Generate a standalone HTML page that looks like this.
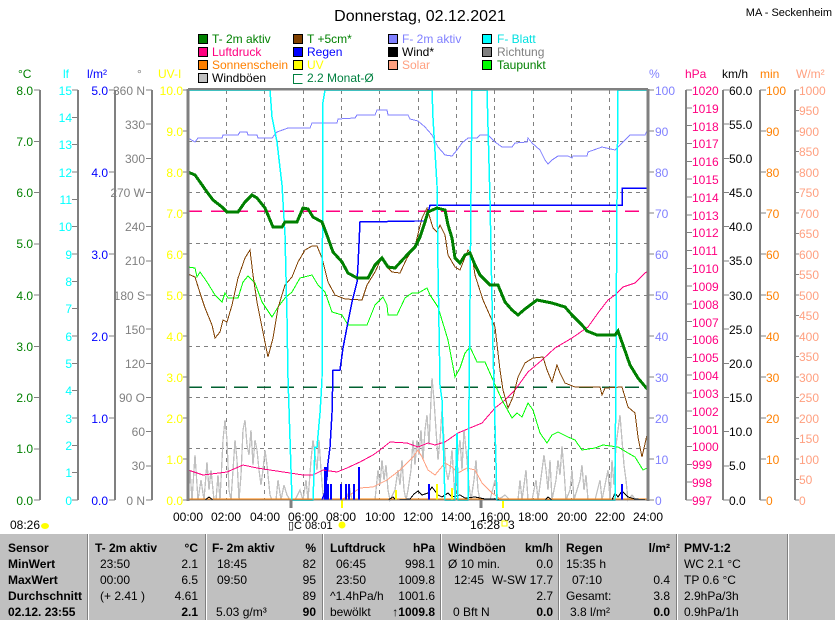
<!DOCTYPE html>
<html><head><meta charset="utf-8"><style>
body{margin:0;background:#fff;width:835px;height:620px;overflow:hidden}
svg{display:block;font-family:"Liberation Sans",sans-serif;font-size:12px}
.tb{font-weight:bold}
polyline,line,path,rect{shape-rendering:crispEdges}
</style></head><body>
<svg width="835" height="620" viewBox="0 0 835 620" xmlns="http://www.w3.org/2000/svg">
<text x="420" y="21" text-anchor="middle" font-size="16">Donnerstag, 02.12.2021</text>
<text x="832" y="16" font-size="11" text-anchor="end">MA - Seckenheim</text>
<!-- legend -->
<g font-size="12">
<rect x="198.5" y="34.5" width="9" height="9" fill="#008000" stroke="#000"/><text x="212" y="43" fill="#008000">T- 2m aktiv</text>
<rect x="293.5" y="34.5" width="9" height="9" fill="#804000" stroke="#000"/><text x="307" y="43" fill="#008000">T +5cm*</text>
<rect x="388.5" y="34.5" width="9" height="9" fill="#8080ff" stroke="#000"/><text x="402" y="43" fill="#8080ff">F- 2m aktiv</text>
<rect x="482.5" y="34.5" width="9" height="9" fill="#00ffff" stroke="#000"/><text x="497" y="43" fill="#00e0e0">F- Blatt</text>
<rect x="198.5" y="47.5" width="9" height="9" fill="#ff0080" stroke="#000"/><text x="212" y="56" fill="#ff0080">Luftdruck</text>
<rect x="293.5" y="47.5" width="9" height="9" fill="#0000ff" stroke="#000"/><text x="307" y="56" fill="#0000ff">Regen</text>
<rect x="388.5" y="47.5" width="9" height="9" fill="#000" stroke="#000"/><text x="402" y="56">Wind*</text>
<rect x="482.5" y="47.5" width="9" height="9" fill="#808080" stroke="#000"/><text x="497" y="56" fill="#808080">Richtung</text>
<rect x="198.5" y="60.5" width="9" height="9" fill="#ff8000" stroke="#000"/><text x="212" y="69" fill="#ff8000">Sonnenschein</text>
<rect x="293.5" y="60.5" width="9" height="9" fill="#ffff00" stroke="#000"/><text x="307" y="69" fill="#ffff00">UV</text>
<rect x="388.5" y="60.5" width="9" height="9" fill="#ffa080" stroke="#000"/><text x="402" y="69" fill="#ffa080">Solar</text>
<rect x="482.5" y="60.5" width="9" height="9" fill="#00ff00" stroke="#000"/><text x="497" y="69" fill="#008000">Taupunkt</text>
<rect x="198.5" y="73.5" width="9" height="9" fill="#c0c0c0" stroke="#000"/><text x="212" y="82">Windböen</text>
<path d="M302.5 74.5H293.5V83.5H302.5" fill="none" stroke="#008040"/><text x="307" y="82" fill="#008040">2.2 Monat-Ø</text>
</g>
<!-- unit labels -->
<text x="18" y="78" fill="#008000">°C</text>
<text x="63" y="78" fill="#00ffff">lf</text>
<text x="87" y="78" fill="#0000ff">l/m²</text>
<text x="137" y="78" fill="#808080">°</text>
<text x="158" y="78" fill="#ffff00">UV-I</text>
<text x="649" y="78" fill="#8080ff">%</text>
<text x="685" y="78" fill="#ff0080">hPa</text>
<text x="722" y="78">km/h</text>
<text x="760" y="78" fill="#ff8000">min</text>
<text x="796" y="78" fill="#ffa080">W/m²</text>
<!-- axis lines -->
<g stroke="#808080" stroke-width="2">
<line x1="40" y1="90" x2="40" y2="500"/><line x1="78" y1="90" x2="78" y2="500"/>
<line x1="115" y1="90" x2="115" y2="500"/><line x1="152" y1="90" x2="152" y2="500"/>
<line x1="686" y1="90" x2="686" y2="500"/><line x1="723" y1="90" x2="723" y2="500"/>
<line x1="760" y1="90" x2="760" y2="500"/><line x1="795" y1="90" x2="795" y2="500"/>
</g>
<!-- left ticks & labels -->
<g stroke="#808080" stroke-width="1">
<path d="M34 90H40M34 141.25H40M34 192.5H40M34 243.75H40M34 295H40M34 346.25H40M34 397.5H40M34 448.75H40M34 500H40"/>
<path d="M72 90H78M72 117.3H78M72 144.7H78M72 172H78M72 199.3H78M72 226.7H78M72 254H78M72 281.3H78M72 308.7H78M72 336H78M72 363.3H78M72 390.7H78M72 418H78M72 445.3H78M72 472.7H78M72 500H78"/>
<path d="M109 90H115M109 172H115M109 254H115M109 336H115M109 418H115M109 500H115"/>
<path d="M146 90H152M146 124.2H152M146 158.3H152M146 192.5H152M146 226.7H152M146 260.8H152M146 295H152M146 329.2H152M146 363.3H152M146 397.5H152M146 431.7H152M146 465.8H152M146 500H152"/>
<path d="M183 90H188M183 131H188M183 172H188M183 213H188M183 254H188M183 295H188M183 336H188M183 377H188M183 418H188M183 459H188M183 500H188"/>
<path d="M648 90H654M648 131H654M648 172H654M648 213H654M648 254H654M648 295H654M648 336H654M648 377H654M648 418H654M648 459H654M648 500H654"/>
<path d="M686 90H692M686 107.8H692M686 125.7H692M686 143.5H692M686 161.3H692M686 179.1H692M686 197H692M686 214.8H692M686 232.6H692M686 250.4H692M686 268.3H692M686 286.1H692M686 303.9H692M686 321.7H692M686 339.6H692M686 357.4H692M686 375.2H692M686 393H692M686 410.9H692M686 428.7H692M686 446.5H692M686 464.3H692M686 482.2H692M686 500H692"/>
<path d="M723 90H729M723 124.2H729M723 158.3H729M723 192.5H729M723 226.7H729M723 260.8H729M723 295H729M723 329.2H729M723 363.3H729M723 397.5H729M723 431.7H729M723 465.8H729M723 500H729"/>
<path d="M760 90H766M760 131H766M760 172H766M760 213H766M760 254H766M760 295H766M760 336H766M760 377H766M760 418H766M760 459H766M760 500H766"/>
<path d="M795 90H799M795 110.5H799M795 131H799M795 151.5H799M795 172H799M795 192.5H799M795 213H799M795 233.5H799M795 254H799M795 274.5H799M795 295H799M795 315.5H799M795 336H799M795 356.5H799M795 377H799M795 397.5H799M795 418H799M795 438.5H799M795 459H799M795 479.5H799M795 500H799"/>
</g>
<g fill="#008000" text-anchor="end">
<text x="33" y="95">8.0</text><text x="33" y="146">7.0</text><text x="33" y="197">6.0</text><text x="33" y="248">5.0</text><text x="33" y="300">4.0</text><text x="33" y="351">3.0</text><text x="33" y="402">2.0</text><text x="33" y="453">1.0</text><text x="33" y="505">0.0</text>
</g>
<g fill="#00ffff" text-anchor="end">
<text x="72" y="95">15</text><text x="72" y="122">14</text><text x="72" y="149">13</text><text x="72" y="177">12</text><text x="72" y="204">11</text><text x="72" y="231">10</text><text x="72" y="259">9</text><text x="72" y="286">8</text><text x="72" y="313">7</text><text x="72" y="341">6</text><text x="72" y="368">5</text><text x="72" y="395">4</text><text x="72" y="423">3</text><text x="72" y="450">2</text><text x="72" y="477">1</text><text x="72" y="505">0</text>
</g>
<g fill="#0000ff" text-anchor="end">
<text x="108" y="95">5.0</text><text x="108" y="177">4.0</text><text x="108" y="259">3.0</text><text x="108" y="341">2.0</text><text x="108" y="423">1.0</text><text x="108" y="505">0.0</text>
</g>
<g fill="#808080" text-anchor="end">
<text x="145" y="95">360 N</text><text x="145" y="129">330</text><text x="145" y="163">300</text><text x="145" y="197">270 W</text><text x="145" y="231">240</text><text x="145" y="265">210</text><text x="145" y="300">180 S</text><text x="145" y="334">150</text><text x="145" y="368">120</text><text x="145" y="402">90 O</text><text x="145" y="436">60</text><text x="145" y="470">30</text><text x="145" y="505">0 N</text>
</g>
<g fill="#ffff00" text-anchor="end">
<text x="183" y="95">10.0</text><text x="183" y="136">9.0</text><text x="183" y="177">8.0</text><text x="183" y="218">7.0</text><text x="183" y="259">6.0</text><text x="183" y="300">5.0</text><text x="183" y="341">4.0</text><text x="183" y="382">3.0</text><text x="183" y="423">2.0</text><text x="183" y="464">1.0</text><text x="183" y="505">0.0</text>
</g>
<g fill="#8080ff">
<text x="655" y="95">100</text><text x="655" y="136">90</text><text x="655" y="177">80</text><text x="655" y="218">70</text><text x="655" y="259">60</text><text x="655" y="300">50</text><text x="655" y="341">40</text><text x="655" y="382">30</text><text x="655" y="423">20</text><text x="655" y="464">10</text><text x="655" y="505">0</text>
</g>
<g fill="#ff0080">
<text x="692" y="95">1020</text><text x="692" y="113">1019</text><text x="692" y="131">1018</text><text x="692" y="148">1017</text><text x="692" y="166">1016</text><text x="692" y="184">1015</text><text x="692" y="202">1014</text><text x="692" y="220">1013</text><text x="692" y="237">1012</text><text x="692" y="255">1011</text><text x="692" y="273">1010</text><text x="692" y="291">1009</text><text x="692" y="309">1008</text><text x="692" y="327">1007</text><text x="692" y="344">1006</text><text x="692" y="362">1005</text><text x="692" y="380">1004</text><text x="692" y="398">1003</text><text x="692" y="416">1002</text><text x="692" y="434">1001</text><text x="692" y="451">1000</text><text x="692" y="469">999</text><text x="692" y="487">998</text><text x="692" y="505">997</text>
</g>
<g fill="#000">
<text x="729" y="95">60.0</text><text x="729" y="129">55.0</text><text x="729" y="163">50.0</text><text x="729" y="197">45.0</text><text x="729" y="231">40.0</text><text x="729" y="265">35.0</text><text x="729" y="300">30.0</text><text x="729" y="334">25.0</text><text x="729" y="368">20.0</text><text x="729" y="402">15.0</text><text x="729" y="436">10.0</text><text x="729" y="470">5.0</text><text x="729" y="505">0.0</text>
</g>
<g fill="#ff8000">
<text x="766" y="95">100</text><text x="766" y="136">90</text><text x="766" y="177">80</text><text x="766" y="218">70</text><text x="766" y="259">60</text><text x="766" y="300">50</text><text x="766" y="341">40</text><text x="766" y="382">30</text><text x="766" y="423">20</text><text x="766" y="464">10</text><text x="766" y="505">0</text>
</g>
<g fill="#ffa080">
<text x="799" y="95">1000</text><text x="799" y="115">950</text><text x="799" y="136">900</text><text x="799" y="156">850</text><text x="799" y="177">800</text><text x="799" y="197">750</text><text x="799" y="218">700</text><text x="799" y="238">650</text><text x="799" y="259">600</text><text x="799" y="279">550</text><text x="799" y="300">500</text><text x="799" y="320">450</text><text x="799" y="341">400</text><text x="799" y="361">350</text><text x="799" y="382">300</text><text x="799" y="402">250</text><text x="799" y="423">200</text><text x="799" y="443">150</text><text x="799" y="464">100</text><text x="799" y="484">50</text><text x="799" y="505">0</text>
</g>
<!-- grid -->
<g stroke="#808080" stroke-dasharray="4,4" stroke-width="1">
<path d="M188 141.5H648M188 192.5H648M188 243.5H648M188 295.5H648M188 346.5H648M188 397.5H648M188 448.5H648"/>
<path d="M226.5 90V500M264.5 90V500M303.5 90V500M341.5 90V500M379.5 90V500M418.5 90V500M456.5 90V500M494.5 90V500M533.5 90V500M571.5 90V500M609.5 90V500"/>
</g>
<!-- dashed monthly lines -->
<line x1="188" y1="211" x2="648" y2="211" stroke="#ff0080" stroke-width="1.5" stroke-dasharray="14,9"/>
<line x1="188" y1="387" x2="648" y2="387" stroke="#006030" stroke-width="1.5" stroke-dasharray="14,9"/>
<!-- Windböen -->
<polyline fill="none" stroke="#c0c0c0" stroke-width="1.3" points="188,500 190,470 192,500 195,455 198,500 201,480 204,500 207,462 209,490 211,470 214,500 216,500 218,475 220,500 223,440 225,420 227,440 229,490 231,500 233,470 235,440 237,460 239,500 241,475 243,430 245,420 247,445 249,455 251,430 253,465 255,440 257,450 259,470 261,485 263,470 265,450 267,465 270,495 272,500 276,500 278,480 281,500 284,485 287,495 290,500 295,500 300,490 303,500 306,480 308,500 311,460 313,440 315,455 317,470 319,440 321,470 323,495 326,500 335,500 340,500 345,500 350,490 352,500 365,500 370,500 375,500 378,470 380,485 382,460 384,480 386,465 388,490 390,500 395,490 398,470 400,485 402,460 404,490 406,500 408,490 411,470 413,440 415,465 417,440 419,455 421,430 423,460 425,430 427,415 429,445 431,400 432,378 434,400 436,430 438,460 440,440 442,410 444,440 446,470 448,480 450,470 452,450 455,500 458,455 460,440 462,470 464,430 467,460 469,485 471,500 474,480 476,460 478,490 480,500 490,500 495,480 498,500 505,495 510,500 518,500 520,480 522,500 526,470 528,500 532,500 536,480 538,500 542,470 544,455 546,470 548,490 550,460 552,500 556,480 558,460 560,475 562,446 564,470 566,500 570,490 572,470 574,500 580,480 582,465 584,490 586,475 588,500 595,500 600,480 602,500 608,470 610,500 612,460 614,485 616,445 618,430 620,415 622,440 624,465 626,480 628,500 632,495 636,500 648,500"/>
<!-- Solar -->
<polyline fill="none" stroke="#ffa080" stroke-width="1" points="340,500 347,497 360,488 373,487 387,480 400,470 413,457 418,450 422,457 428,470 435,475 445,463 452,467 458,473 467,468 475,470 482,483 492,493 502,500"/>
<!-- Sunshine -->
<line x1="188" y1="499" x2="648" y2="499" stroke="#ff8000" stroke-width="1.5"/>
<!-- Wind black -->
<polyline fill="none" stroke="#000" stroke-width="1" points="188,500 205,500 209,497 213,500 388,500 393,497 396,500 410,499 414,494 418,491 422,495 428,493 432,487 435,491 438,495 442,497 448,493 452,497 460,495 465,498 475,497 485,499 495,499 500,500 545,500 548,497 552,500 612,500 615,493 618,497 622,491 628,497 635,499 648,500"/>
<!-- UV -->
<g stroke="#ffff00" stroke-width="2"><line x1="342" y1="500" x2="342" y2="508"/><line x1="396" y1="500" x2="396" y2="490"/><line x1="437" y1="484" x2="437" y2="500"/><line x1="452" y1="488" x2="452" y2="500"/><line x1="503" y1="500" x2="503" y2="508"/></g>
<!-- Rain bars -->
<g fill="#0000ff">
<rect x="324" y="467" width="3" height="33"/><rect x="327" y="484" width="2" height="16"/><rect x="330" y="484" width="2" height="16"/><rect x="340" y="484" width="2" height="16"/><rect x="345" y="484" width="2" height="16"/><rect x="348" y="484" width="2" height="16"/><rect x="353" y="484" width="2" height="16"/><rect x="358" y="467" width="2" height="33"/><rect x="428" y="484" width="2" height="16"/><rect x="621" y="484" width="2" height="16"/>
</g>
<!-- Luftdruck -->
<polyline fill="none" stroke="#ff0080" stroke-width="1" points="188,470 203,475 227,472 243,465 257,468 270,470 290,473 303,475 313,475 323,470 337,472 347,468 360,462 373,455 380,450 390,442 407,443 418,447 428,443 435,445 445,442 458,433 470,428 482,423 495,408 505,400 515,390 528,372 542,360 555,348 572,338 588,327 598,313 608,300 615,295 623,287 635,283 645,273 648,271"/>
<!-- Taupunkt -->
<polyline fill="none" stroke="#00ff00" stroke-width="1" points="188,267 195,268 197,277 200,272 207,282 215,295 222,302 225,293 228,298 238,298 243,282 248,276 255,283 262,302 272,317 278,307 285,298 292,292 300,278 312,275 318,285 325,292 332,312 342,315 348,325 367,325 375,305 383,297 387,305 388,315 397,315 405,298 412,293 418,293 420,292 427,288 430,295 438,307 448,340 455,377 460,368 465,353 470,347 477,362 485,362 493,380 502,400 512,418 517,413 522,417 528,403 533,410 540,433 547,443 552,435 558,432 568,437 575,440 582,450 595,448 603,445 618,447 628,453 635,457 643,470 647,468"/>
<!-- T+5cm -->
<polyline fill="none" stroke="#804000" stroke-width="1" points="188,274 195,277 200,293 205,308 212,325 215,338 220,332 223,320 227,322 232,305 238,278 245,258 250,250 253,275 257,302 263,332 268,357 273,338 278,308 285,285 292,277 298,262 305,250 312,246 317,246 322,258 328,282 335,295 345,299 362,300 367,285 375,272 382,257 387,267 392,272 400,273 407,258 415,246 422,218 427,208 433,228 437,232 440,225 445,235 448,255 455,267 460,270 468,250 472,255 475,275 483,300 495,327 500,370 503,390 508,408 513,397 518,377 525,363 533,358 543,357 547,370 552,382 557,365 560,373 565,383 575,387 600,387 602,395 605,388 622,387 628,407 635,413 638,437 642,457 647,435"/>
<!-- F-2m -->
<polyline fill="none" stroke="#8080ff" stroke-width="1" points="188,138 195,142 198,138 222,138 223,135 238,135 240,132 247,132 248,135 257,135 258,138 272,138 277,132 288,128 310,128 312,123 337,123 338,119 355,118 357,115 375,115 377,110 387,110 388,115 408,115 410,119 418,121 425,127 432,135 438,147 445,155 452,156 457,150 462,143 468,138 477,138 480,135 488,135 495,142 502,147 512,147 515,143 527,142 528,138 532,143 540,150 545,160 548,164 552,160 558,156 568,156 572,158 573,156 587,156 588,152 602,147 615,150 622,143 630,135 645,135 647,131"/>
<!-- Regen cumulative -->
<polyline fill="none" stroke="#0000ff" stroke-width="1.5" points="322,500 325,492 327,477 328,463 330,447 332,413 333,370 340,370 343,348 347,327 352,302 357,282 358,265 360,222 415,221 425,221 427,217 430,205 622,205 622,188 648,188"/>
<!-- F-Blatt -->
<polyline fill="none" stroke="#00ffff" stroke-width="1.5" points="188,90 270,90 272,117 277,142 282,185 285,235 287,318 288,378 292,500 313,500 315,447 317,447 320,413 322,380 323,102 325,90 432,90 433,118 437,185 438,268 440,385 442,400 445,500 455,500 457,433 458,500 468,500 470,300 472,90 487,90 490,200 493,350 497,500 615,500 617,200 618,90 648,90"/>
<!-- T-2m -->
<polyline fill="none" stroke="#008000" stroke-width="3" points="188,172 195,175 200,182 207,192 213,200 222,207 227,212 238,212 245,202 252,195 257,198 265,208 273,227 282,227 285,222 297,222 303,208 308,209 313,217 322,222 328,238 333,252 342,262 348,273 357,278 368,278 375,265 382,258 388,267 395,268 407,255 415,247 420,237 425,222 428,212 437,208 445,210 448,225 452,238 455,258 460,263 465,255 470,253 475,265 480,275 490,285 498,285 505,302 512,310 518,315 525,309 537,300 552,303 565,307 572,315 582,325 587,331 597,335 615,335 618,331 623,345 630,365 638,378 648,390"/>
<!-- frame -->
<rect x="188" y="90" width="460" height="410" fill="none" stroke="#808080" stroke-width="1"/>
<line x1="188" y1="89" x2="648" y2="89" stroke="#808080" stroke-width="2"/>
<line x1="188" y1="89" x2="188" y2="501" stroke="#808080" stroke-width="3"/>
<line x1="648" y1="89" x2="648" y2="501" stroke="#808080" stroke-width="3"/>
<line x1="291" y1="500" x2="291" y2="508" stroke="#808080" stroke-width="3"/>
<line x1="481" y1="500" x2="481" y2="508" stroke="#808080" stroke-width="3"/>
<!-- time labels -->
<g text-anchor="middle">
<text x="188" y="521">00:00</text><text x="226" y="521">02:00</text><text x="265" y="521">04:00</text><text x="303" y="521">06:00</text><text x="341" y="521">08:00</text><text x="380" y="521">10:00</text><text x="418" y="521">12:00</text><text x="456" y="521">14:00</text><text x="495" y="521">16:00</text><text x="533" y="521">18:00</text><text x="572" y="521">20:00</text><text x="610" y="521">22:00</text><text x="648" y="521">24:00</text>
</g>
<text x="10" y="529">08:26</text><ellipse cx="45" cy="526" rx="4" ry="3" fill="#ffff00"/>
<text x="288" y="529" font-size="11">▯C 08:01</text><circle cx="342" cy="525" r="3.5" fill="#ffff00"/>
<text x="470" y="529">16:28</text><rect x="502" y="521" width="5" height="5" fill="none" stroke="#ffff00"/><text x="508" y="529">3</text>
<!-- table -->
<rect x="0" y="533" width="835" height="87" fill="#c0c0c0"/>
<line x1="0" y1="533.5" x2="835" y2="533.5" stroke="#fff"/>
<g stroke="#808080"><path d="M87.5 534V620M205.5 534V620M322.5 534V620M440.5 534V620M558.5 534V620M676.5 534V620M787.5 534V620"/></g>
<g stroke="#fff"><path d="M88.5 534V620M206.5 534V620M323.5 534V620M441.5 534V620M559.5 534V620M677.5 534V620M788.5 534V620"/></g>
<g font-size="12">
<g class="tb"><text x="8" y="552">Sensor</text><text x="8" y="568">MinWert</text><text x="8" y="584">MaxWert</text><text x="8" y="600">Durchschnitt</text><text x="8" y="616">02.12. 23:55</text></g>
<text x="95" y="552" class="tb">T- 2m aktiv</text><text x="198" y="552" class="tb" text-anchor="end">°C</text>
<text x="100" y="568">23:50</text><text x="100" y="584">00:00</text><text x="100" y="600">(+ 2.41 )</text>
<g text-anchor="end"><text x="198" y="568">2.1</text><text x="198" y="584">6.5</text><text x="198" y="600">4.61</text><text x="198" y="616" class="tb">2.1</text></g>
<text x="212" y="552" class="tb">F- 2m aktiv</text><text x="316" y="552" class="tb" text-anchor="end">%</text>
<text x="217" y="568">18:45</text><text x="217" y="584">09:50</text><text x="216" y="616">5.03 g/m³</text>
<g text-anchor="end"><text x="316" y="568">82</text><text x="316" y="584">95</text><text x="316" y="600">89</text><text x="316" y="616" class="tb">90</text></g>
<text x="330" y="552" class="tb">Luftdruck</text><text x="435" y="552" class="tb" text-anchor="end">hPa</text>
<text x="336" y="568">06:45</text><text x="336" y="584">23:50</text><text x="330" y="600">^1.4hPa/h</text><text x="330" y="616">bewölkt</text>
<g text-anchor="end"><text x="435" y="568">998.1</text><text x="435" y="584">1009.8</text><text x="435" y="600">1001.6</text><text x="435" y="616" class="tb">↑1009.8</text></g>
<text x="448" y="552" class="tb">Windböen</text><text x="553" y="552" class="tb" text-anchor="end">km/h</text>
<text x="448" y="568">Ø 10 min.</text><text x="454" y="584">12:45</text><text x="453" y="616">0 Bft N</text>
<g text-anchor="end"><text x="553" y="568">0.0</text><text x="553" y="584">W-SW 17.7</text><text x="553" y="600">2.7</text><text x="553" y="616" class="tb">0.0</text></g>
<text x="566" y="552" class="tb">Regen</text><text x="670" y="552" class="tb" text-anchor="end">l/m²</text>
<text x="566" y="568">15:35 h</text><text x="572" y="584">07:10</text><text x="566" y="600">Gesamt:</text><text x="570" y="616">3.8 l/m²</text>
<g text-anchor="end"><text x="670" y="584">0.4</text><text x="670" y="600">3.8</text><text x="670" y="616" class="tb">0.0</text></g>
<text x="684" y="552" class="tb">PMV-1:2</text><text x="684" y="568">WC 2.1 °C</text><text x="684" y="584">TP 0.6 °C</text><text x="684" y="600">2.9hPa/3h</text><text x="684" y="616">0.9hPa/1h</text>
</g>
</svg>
</body></html>
